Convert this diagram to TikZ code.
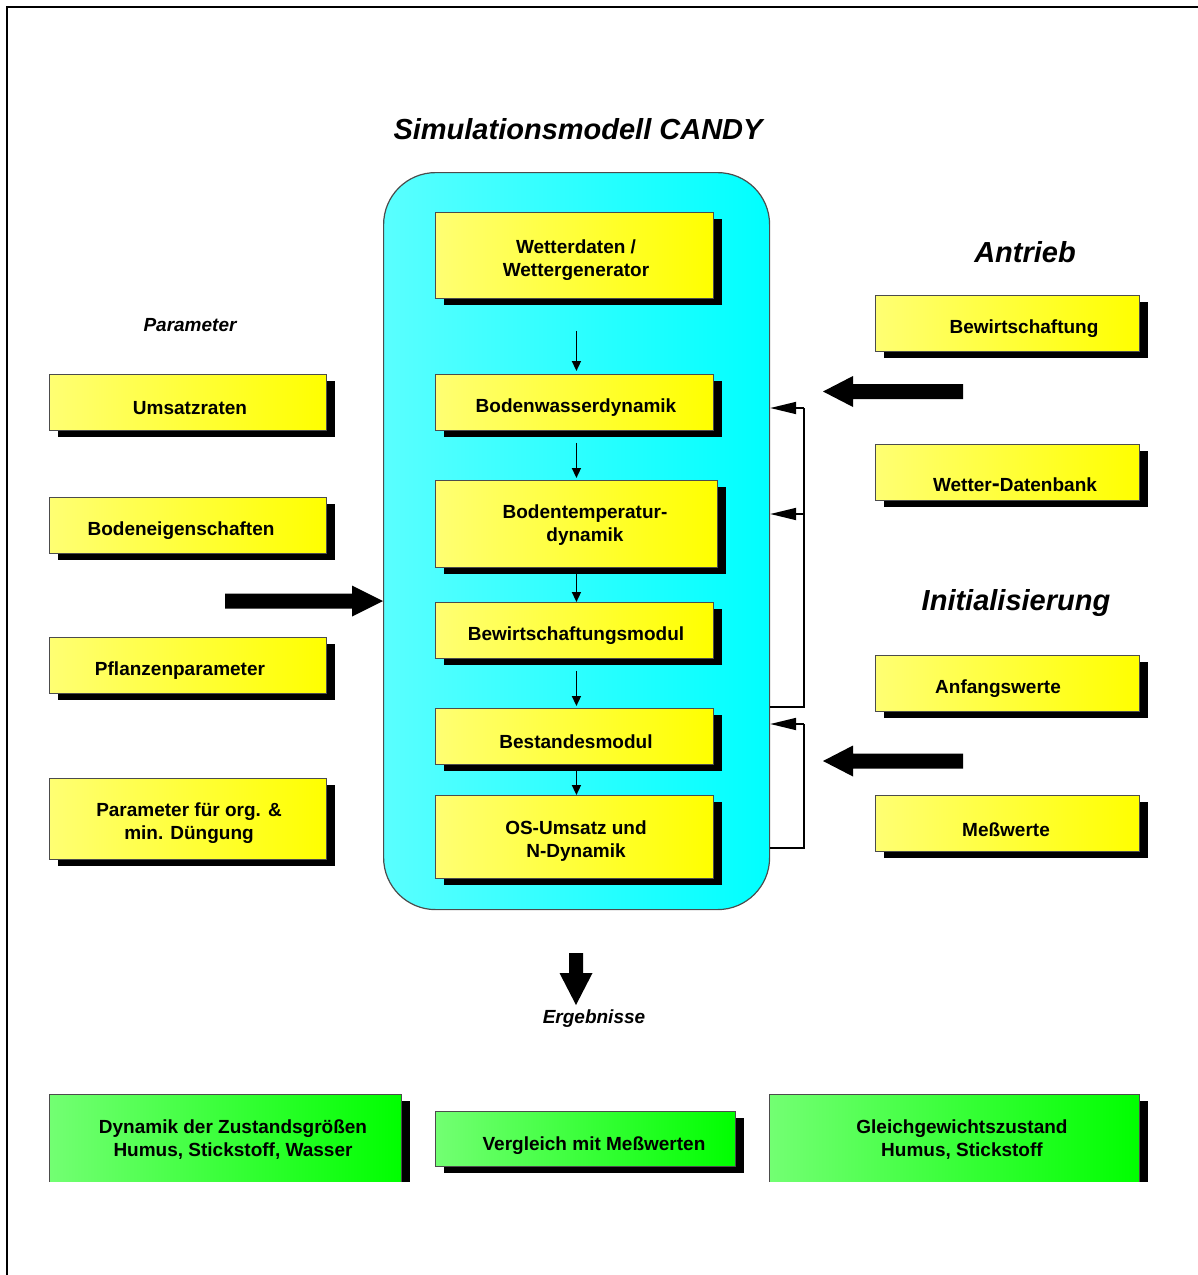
\documentclass[tikz,border=0pt]{standalone}
\usepackage{fontspec}
\setmainfont{Liberation Sans}
\usetikzlibrary{arrows.meta,shadows}
\begin{document}
\begin{tikzpicture}[x=1pt,y=-1pt,
  boxbase/.style={draw=black!70, line width=0.9pt, inner sep=0pt, anchor=north west,
    drop shadow={shadow xshift=9pt, shadow yshift=-7pt, fill=black, opacity=1}},
  ybox/.style={boxbase, left color=yellow!55!white, middle color=yellow, right color=yellow},
  gbox/.style={boxbase, left color=green!55!white, middle color=green, right color=green},
  txt/.style={font=\fontsize{19}{23}\selectfont\bfseries, align=center, inner sep=0pt, yshift=-3pt},
  ttl/.style={font=\fontsize{29}{34}\selectfont\bfseries\itshape, inner sep=0pt},
  sttl/.style={font=\fontsize{19}{23}\selectfont\bfseries\itshape, inner sep=0pt},
  sarrow/.style={line width=1.6pt, -{Triangle[length=10pt,width=9pt]}},
  fbline/.style={line width=1.8pt},
  fbarrow/.style={line width=1.8pt, -{Triangle[length=26pt,width=12pt]}},
  blockarrow/.style={fill=black}
]
\useasboundingbox (0,0) rectangle (1198,1275);
% frame
\draw[line width=2pt] (7,1300) -- (7,7) -- (1220,7);

% titles
\node[ttl] (title) at (578,129) {Simulationsmodell CANDY};
\node[ttl] (antrieb) at (1025,252) {Antrieb};
\node[ttl] (init) at (1016,603) {Initialisierung};
\node[sttl] (param) at (190,325) {Parameter};
\node[sttl] (ergeb) at (594,1019) {Ergebnisse};

% central model box
\node[draw=black!70, line width=1.2pt, rounded corners=52pt, anchor=north west,
  minimum width=386pt, minimum height=737pt, inner sep=0pt,
  left color=cyan!65!white, middle color=cyan, right color=cyan] (candy) at (383,172) {};

% central modules
\node[ybox, minimum width=278pt, minimum height=86pt] (wetter) at (435,212) {};
\node[txt] (wetter-t) at (576,257) {Wetterdaten /\\Wettergenerator};
\node[ybox, minimum width=278pt, minimum height=56pt] (bwd) at (435,374) {};
\node[txt] (bwd-t) at (576,405) {Bodenwasserdynamik};
\node[ybox, minimum width=282pt, minimum height=87pt] (btd) at (435,480) {};
\node[txt] (btd-t) at (585,522) {Bodentemperatur-\\dynamik};
\node[ybox, minimum width=278pt, minimum height=56pt] (bwm) at (435,602) {};
\node[txt] (bwm-t) at (576,633) {Bewirtschaftungsmodul};
\node[ybox, minimum width=278pt, minimum height=56pt] (best) at (435,708) {};
\node[txt] (best-t) at (576,739) {Bestandesmodul};
\node[ybox, minimum width=278pt, minimum height=83pt] (os) at (435,795) {};
\node[txt] (os-t) at (576,838) {OS-Umsatz und\\N-Dynamik};

% small arrows
\draw[sarrow] ([xshift=2pt,yshift=-32pt]wetter.south) -- ([xshift=2pt,yshift=3pt]bwd.north);
\draw[sarrow] ([xshift=2pt,yshift=-12pt]bwd.south) -- ([yshift=2pt]btd.north);
\draw[sarrow] (btd.south) -- ([xshift=2pt]bwm.north);
\draw[sarrow] ([xshift=2pt,yshift=-12pt]bwm.south) -- ([xshift=2pt,yshift=2pt]best.north);
\draw[sarrow] ([xshift=2pt,yshift=-6pt]best.south) -- ([xshift=2pt]os.north);

% left parameter boxes
\node[ybox, minimum width=277pt, minimum height=56pt] (umsatz) at (49,374) {};
\node[txt] (umsatz-t) at (190,405) {Umsatzraten};
\node[ybox, minimum width=277pt, minimum height=56pt] (boden) at (49,497) {};
\node[txt] (boden-t) at (181,528) {Bodeneigenschaften};
\node[ybox, minimum width=277pt, minimum height=56pt] (pflanze) at (49,637) {};
\node[txt] (pflanze-t) at (180,668) {Pflanzenparameter};
\node[ybox, minimum width=277pt, minimum height=81pt] (duengung) at (49,778) {};
\node[txt] (duengung-t) at (189,820) {Parameter für org. \&\\min. Düngung};

% right boxes
\node[ybox, minimum width=264pt, minimum height=56pt] (bewirt) at (875,295) {};
\node[txt] (bewirt-t) at (1024,326) {Bewirtschaftung};
\node[ybox, minimum width=264pt, minimum height=56pt] (wdb) at (875,444) {};
\node[txt] (wdb-t) at (1015,482) {Wetter\raisebox{0.5pt}{\fontsize{24}{24}\selectfont-}Datenbank};
\node[ybox, minimum width=264pt, minimum height=56pt] (anfang) at (875,655) {};
\node[txt] (anfang-t) at (998,686) {Anfangswerte};
\node[ybox, minimum width=264pt, minimum height=56pt] (mess) at (875,795) {};
\node[txt] (mess-t) at (1006,827) {Meßwerte};

% block arrows
\fill[blockarrow] (225,593.5) -- (352,593.5) -- (352,585.5) -- (383,601) -- (352,616.5) -- (352,608.5) -- (225,608.5) -- cycle;
\fill[blockarrow] (963,384) -- (853,384) -- (853,376) -- (823,391.5) -- (853,407) -- (853,399) -- (963,399) -- cycle;
\fill[blockarrow] (963,753.5) -- (853,753.5) -- (853,745.5) -- (823,761) -- (853,776.5) -- (853,768.5) -- (963,768.5) -- cycle;
\fill[blockarrow] (569,953) -- (583,953) -- (583,973) -- (592.5,973) -- (576,1005) -- (559.5,973) -- (569,973) -- cycle;

% feedback connectors
\coordinate (fbA) at (804,707);
\coordinate (fbB) at (804,408);
\coordinate (fbC) at (804,514);
\coordinate (fbD) at (804,848);
\coordinate (fbE) at (804,724);
\draw[fbline] (candy.east |- fbA) -- (fbA) -- (fbB);
\draw[fbarrow] (fbB) -- (candy.east |- fbB);
\draw[fbarrow] (fbC) -- (candy.east |- fbC);
\draw[fbline] (candy.east |- fbD) -- (fbD) -- (fbE);
\draw[fbarrow] (fbE) -- (candy.east |- fbE);

% result boxes (cut at the bottom)
\begin{scope}
\clip (0,0) rectangle (1198,1181.5);
\node[gbox, minimum width=352pt, minimum height=110pt] (dyn) at (49,1094) {};
\node[gbox, minimum width=300pt, minimum height=55pt] (vergl) at (435,1111) {};
\node[gbox, minimum width=370pt, minimum height=110pt] (gleich) at (769,1094) {};
\end{scope}
\node[txt] (dyn-t) at (233,1137) {Dynamik der Zustandsgrößen\\Humus, Stickstoff, Wasser};
\node[txt] (vergl-t) at (594,1143) {Vergleich mit Meßwerten};
\node[txt] (gleich-t) at (962,1137) {Gleichgewichtszustand\\Humus, Stickstoff};
\end{tikzpicture}
\end{document}
